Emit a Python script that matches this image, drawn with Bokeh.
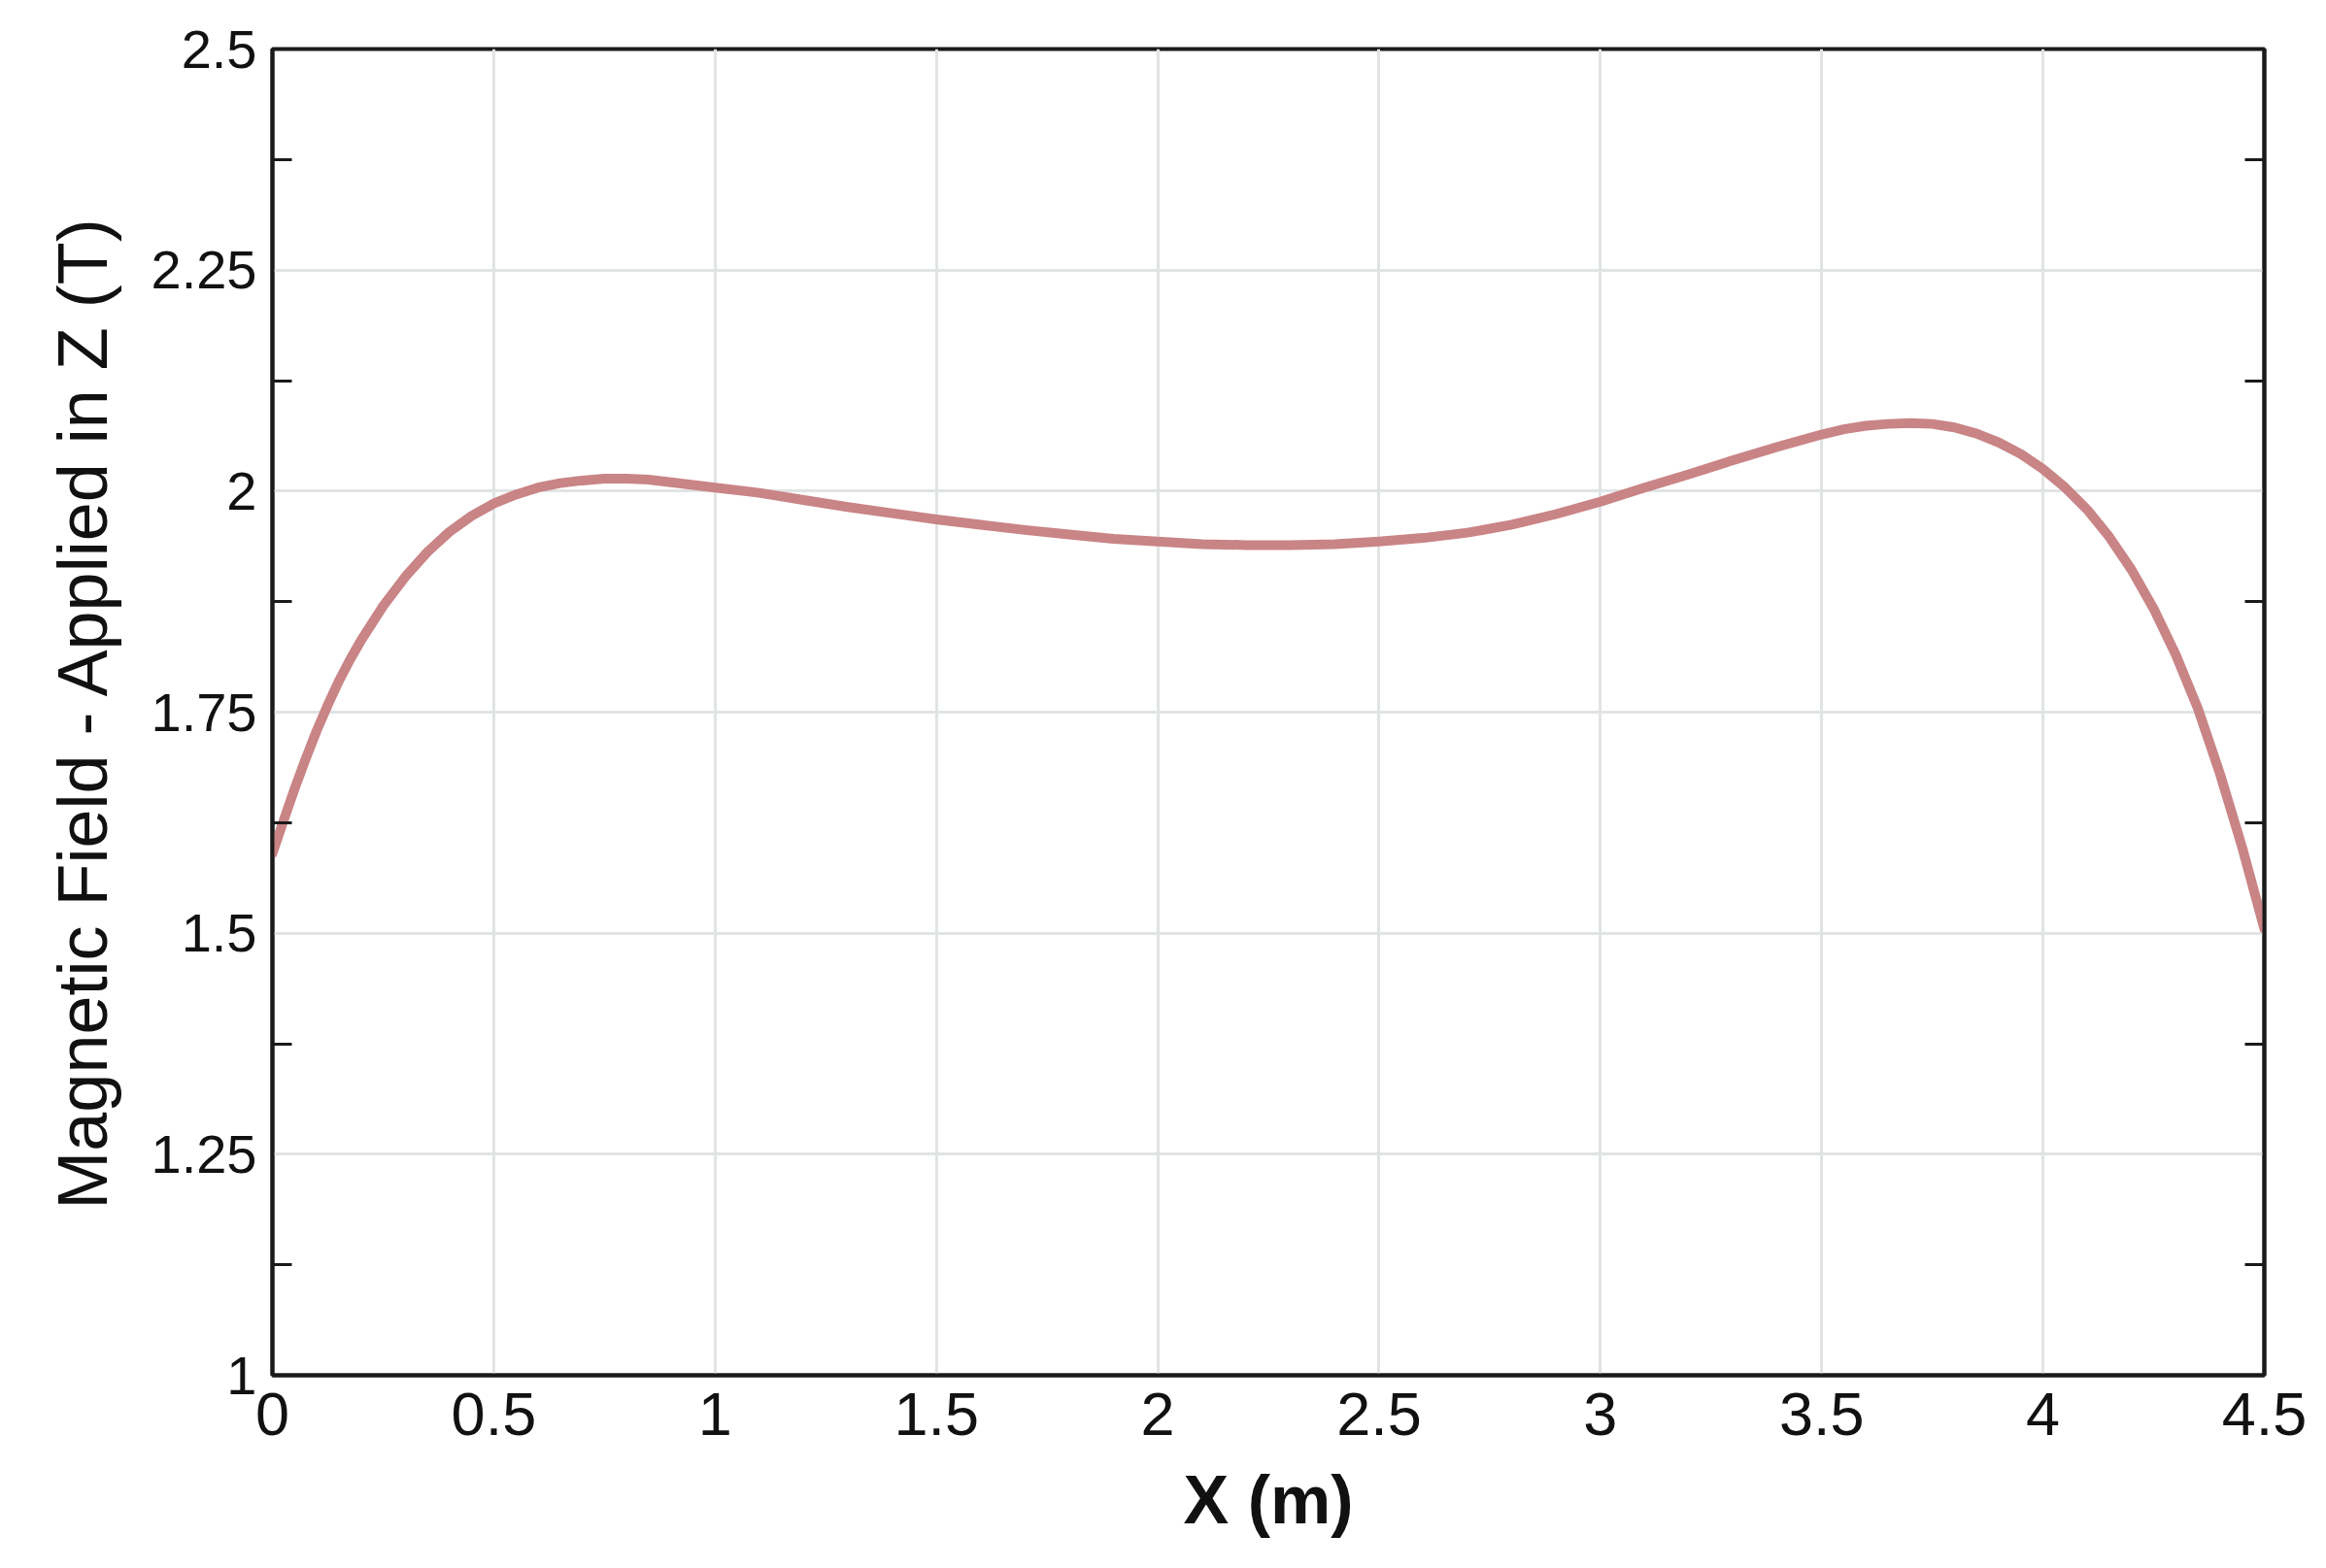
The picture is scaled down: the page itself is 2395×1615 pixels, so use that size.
from bokeh.plotting import figure
from bokeh.models import FixedTicker, LinearAxis, Range1d
from bokeh.embed import file_html
from bokeh.resources import INLINE

# Data
x_m = [0.0, 0.025, 0.05, 0.075, 0.1, 0.125, 0.15, 0.175, 0.2, 0.25, 0.3, 0.35, 0.4, 0.45, 0.5,
       0.55, 0.6, 0.65, 0.7, 0.75, 0.8, 0.85, 0.9, 0.95, 1.0, 1.1, 1.2, 1.3, 1.4, 1.5,
       1.6, 1.7, 1.8, 1.9, 2.0, 2.1, 2.2, 2.3, 2.4, 2.5, 2.6, 2.7, 2.8, 2.9, 3.0,
       3.1, 3.2, 3.3, 3.4, 3.5, 3.55, 3.6, 3.65, 3.7, 3.75, 3.8, 3.85, 3.9, 3.95, 4.0,
       4.05, 4.1, 4.15, 4.2, 4.25, 4.3, 4.35, 4.4, 4.45, 4.5]
bz_t = [1.590, 1.627, 1.663, 1.697, 1.729, 1.758, 1.785, 1.809, 1.831, 1.870, 1.903, 1.931, 1.954, 1.972, 1.986,
        1.996, 2.004, 2.009, 2.012, 2.014, 2.014, 2.013, 2.010, 2.007, 2.004, 1.998, 1.990, 1.982, 1.975, 1.968,
        1.962, 1.956, 1.951, 1.946, 1.943, 1.940, 1.939, 1.939, 1.940, 1.943, 1.947, 1.953, 1.962, 1.974, 1.988,
        2.004, 2.019, 2.035, 2.050, 2.064, 2.070, 2.074, 2.076, 2.077, 2.076, 2.072, 2.065, 2.055, 2.042, 2.025,
        2.004, 1.979, 1.948, 1.911, 1.867, 1.815, 1.754, 1.680, 1.597, 1.505]

x_ticks = [0, 0.5, 1, 1.5, 2, 2.5, 3, 3.5, 4, 4.5]
x_tick_labels = ["0", "0.5", "1", "1.5", "2", "2.5", "3", "3.5", "4", "4.5"]
y_ticks = [1, 1.25, 1.5, 1.75, 2, 2.25, 2.5]
y_tick_labels = ["1", "1.25", "1.5", "1.75", "2", "2.25", "2.5"]
y_minor = [1.125, 1.375, 1.625, 1.875, 2.125, 2.375]

FONT = "Liberation Sans"
INK = "#111111"
AXIS = "#1a1a1a"

p = figure(width=2379, height=1599, output_backend="svg", toolbar_location=None,
           x_range=Range1d(0, 4.5), y_range=Range1d(1, 2.5),
           min_border_left=280, min_border_right=48, min_border_top=50, min_border_bottom=183)
p.background_fill_color = "white"
p.border_fill_color = "white"
p.outline_line_color = AXIS
p.outline_line_width = 4

p.line(x_m, bz_t, line_color="#C98486", line_width=10, line_join="round", line_cap="round")

xt = FixedTicker(ticks=x_ticks, minor_ticks=[])
yt = FixedTicker(ticks=y_ticks, minor_ticks=y_minor)

xa = p.xaxis[0]
xa.ticker = xt
xa.major_label_overrides = {t: l for t, l in zip(x_ticks, x_tick_labels)}
xa.axis_label = "X (m)"
xa.axis_label_text_font = FONT
xa.axis_label_text_font_style = "bold"
xa.axis_label_text_font_size = "70px"
xa.axis_label_text_color = INK
xa.axis_label_standoff = 25
xa.major_label_text_font = FONT
xa.major_label_text_font_size = "63px"
xa.major_label_text_color = INK
xa.major_label_standoff = 18
xa.major_tick_in = 0
xa.major_tick_out = 0
xa.minor_tick_in = 0
xa.minor_tick_out = 0
xa.axis_line_color = AXIS
xa.axis_line_width = 4

ya = p.yaxis[0]
ya.ticker = yt
ya.major_label_overrides = {t: l for t, l in zip(y_ticks, y_tick_labels)}
ya.axis_label = "Magnetic Field - Applied in Z (T)"
ya.axis_label_text_font = FONT
ya.axis_label_text_font_style = "normal"
ya.axis_label_text_font_size = "72px"
ya.axis_label_text_color = INK
ya.axis_label_standoff = 28
ya.major_label_text_font = FONT
ya.major_label_text_font_size = "56px"
ya.major_label_text_color = INK
ya.major_label_standoff = 16
ya.major_tick_in = 0
ya.major_tick_out = 0
ya.minor_tick_in = 20
ya.minor_tick_out = 0
ya.minor_tick_line_width = 3
ya.minor_tick_line_color = AXIS
ya.axis_line_color = AXIS
ya.axis_line_width = 4

ra = LinearAxis(ticker=FixedTicker(ticks=[], minor_ticks=y_minor))
ra.major_label_standoff = 0
ra.major_tick_in = 0
ra.major_tick_out = 0
ra.minor_tick_in = 20
ra.minor_tick_out = 0
ra.minor_tick_line_width = 3
ra.minor_tick_line_color = AXIS
ra.axis_line_color = AXIS
ra.axis_line_width = 4
p.add_layout(ra, "right")

p.xgrid[0].ticker = xt
p.ygrid[0].ticker = yt
p.xgrid.grid_line_color = "#E1E4E4"
p.ygrid.grid_line_color = "#E1E4E4"
p.xgrid.grid_line_width = 3
p.ygrid.grid_line_width = 3

open("out.html", "w").write(file_html(p, INLINE))
